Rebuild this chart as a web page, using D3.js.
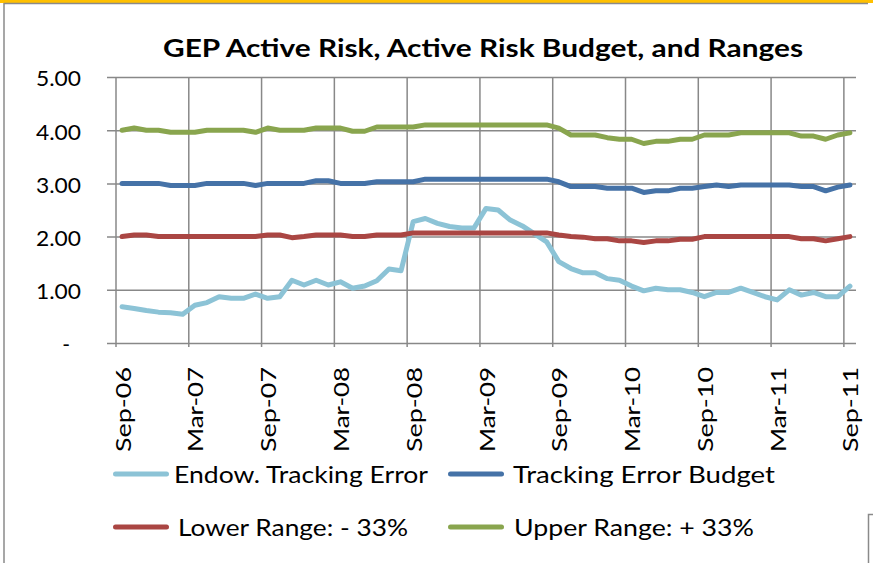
<!DOCTYPE html>
<html>
<head>
<meta charset="utf-8">
<title>GEP Active Risk</title>
<script src="https://cdn.jsdelivr.net/npm/d3@7"></script>
<style>
  body { margin: 0; background: #fff; }
  svg { display: block; font-family: Lato, "Open Sans", sans-serif; }
</style>
</head>
<body>
<svg id="chart" width="873" height="563"></svg>
<script>
// monthly points, Sep-06 .. Sep-11
var months = d3.timeMonth.range(new Date(2006, 8, 1), new Date(2011, 9, 1));
var tickLabels = ["Sep-06", "Mar-07", "Sep-07", "Mar-08", "Sep-08", "Mar-09",
                  "Sep-09", "Mar-10", "Sep-10", "Mar-11", "Sep-11"];
var yTicks = [0, 1, 2, 3, 4, 5];

var endowTE = [0.68, 0.65, 0.61, 0.58, 0.57, 0.54, 0.71, 0.76, 0.87, 0.84, 0.84, 0.92,
               0.84, 0.87, 1.18, 1.09, 1.18, 1.09, 1.15, 1.03, 1.07, 1.17, 1.39, 1.36,
               2.28, 2.34, 2.25, 2.19, 2.16, 2.16, 2.53, 2.50, 2.31, 2.20, 2.05, 1.90,
               1.53, 1.40, 1.32, 1.32, 1.21, 1.18, 1.07, 0.98, 1.03, 1.00, 1.00, 0.95,
               0.87, 0.95, 0.95, 1.03, 0.95, 0.87, 0.81, 1.00, 0.90, 0.95, 0.87, 0.87, 1.07];
var teBudget = [3.00, 3.00, 3.00, 3.00, 2.96, 2.96, 2.96, 3.00, 3.00, 3.00, 3.00, 2.96,
                3.00, 3.00, 3.00, 3.00, 3.05, 3.05, 3.00, 3.00, 3.00, 3.03, 3.03, 3.03,
                3.03, 3.08, 3.08, 3.08, 3.08, 3.08, 3.08, 3.08, 3.08, 3.08, 3.08, 3.08,
                3.03, 2.94, 2.94, 2.94, 2.91, 2.91, 2.91, 2.83, 2.86, 2.86, 2.91, 2.91,
                2.94, 2.97, 2.94, 2.97, 2.97, 2.97, 2.97, 2.97, 2.94, 2.94, 2.86, 2.93, 2.97];
var lowerRange = [2.00, 2.03, 2.03, 2.00, 2.00, 2.00, 2.00, 2.00, 2.00, 2.00, 2.00, 2.00,
                  2.03, 2.03, 1.98, 2.00, 2.03, 2.03, 2.03, 2.00, 2.00, 2.03, 2.03, 2.03,
                  2.07, 2.07, 2.07, 2.07, 2.07, 2.07, 2.07, 2.07, 2.07, 2.07, 2.07, 2.07,
                  2.03, 2.00, 1.99, 1.96, 1.96, 1.92, 1.92, 1.89, 1.92, 1.92, 1.95, 1.95,
                  2.00, 2.00, 2.00, 2.00, 2.00, 2.00, 2.00, 2.00, 1.96, 1.96, 1.92, 1.96, 2.00];
var upperRange = [4.00, 4.04, 4.00, 4.00, 3.96, 3.96, 3.96, 4.00, 4.00, 4.00, 4.00, 3.96,
                  4.04, 4.00, 4.00, 4.00, 4.04, 4.04, 4.04, 3.98, 3.98, 4.06, 4.06, 4.06,
                  4.06, 4.10, 4.10, 4.10, 4.10, 4.10, 4.10, 4.10, 4.10, 4.10, 4.10, 4.10,
                  4.04, 3.91, 3.91, 3.91, 3.86, 3.83, 3.83, 3.75, 3.79, 3.79, 3.83, 3.83,
                  3.91, 3.91, 3.91, 3.95, 3.95, 3.95, 3.95, 3.95, 3.89, 3.89, 3.83, 3.91, 3.95];

var seriesNames = ["Endow. Tracking Error", "Tracking Error Budget", "Lower Range: - 33%", "Upper Range: + 33%"];
var seriesColors = ["#8cc3d6", "#4572a7", "#aa4643", "#89a54e"];
var seriesData = [endowTE, teBudget, lowerRange, upperRange];

var svg = d3.select("#chart");
var gridColor = "#888";
var plotL = 116, plotR = 856, plotT = 77, plotB = 343;

// frame bits
svg.append("rect").attr("x", 0).attr("y", 0).attr("width", 873).attr("height", 3).attr("fill", "#ffc000");
svg.append("line").attr("x1", 4).attr("x2", 868).attr("y1", 3.5).attr("y2", 3.5)
    .attr("stroke", "#8a8a8a").attr("stroke-width", 1.5);
svg.append("line").attr("x1", 4).attr("x2", 4).attr("y1", 3).attr("y2", 563)
    .attr("stroke", "#8a8a8a").attr("stroke-width", 1.5);
svg.append("path").attr("d", "M873,514.5H868.5V563").attr("fill", "none")
    .attr("stroke", "#8a8a8a").attr("stroke-width", 1.5);

var x = d3.scaleBand().domain(months).range([plotL, plotR]);
var bw = x.bandwidth();
var y = d3.scaleLinear().domain([0, 5]).range([plotB, plotT]);
var fmtMonth = d3.timeFormat("%b-%y");

// horizontal gridlines + y labels
var yAxis = d3.axisLeft(y)
    .tickValues(yTicks)
    .tickSize(-(plotR - plotL))
    .tickPadding(35)
    .tickFormat(function(d) { return d === 0 ? "-" : d3.format(".2f")(d); });

var gy = svg.append("g").attr("transform", "translate(" + plotL + ",0)").call(yAxis);
gy.select(".domain").remove();
gy.selectAll(".tick line").attr("x1", -9).attr("stroke", gridColor).attr("stroke-width", 1.5);
gy.selectAll(".tick text")
    .attr("font-family", "Lato, sans-serif")
    .attr("font-size", 21)
    .attr("fill", "#000")
    .attr("dy", "0.42em")
    .attr("textLength", function(d) { return d === 0 ? null : 45; })
    .attr("lengthAdjust", "spacingAndGlyphs")
    .attr("x", function(d) { return d === 0 ? -46 : -35; });

// vertical gridlines every 6 months
var tickMonths = months.filter(function(m) { return tickLabels.indexOf(fmtMonth(m)) >= 0; });
svg.append("g").selectAll("line")
  .data(tickMonths)
  .enter().append("line")
    .attr("x1", function(d) { return x(d); })
    .attr("x2", function(d) { return x(d); })
    .attr("y1", plotT)
    .attr("y2", plotB + 4)
    .attr("stroke", gridColor)
    .attr("stroke-width", 1.5);

// x labels, rotated
svg.append("g").selectAll("text")
  .data(tickMonths)
  .enter().append("text")
    .attr("transform", function(d) {
      return "translate(" + (x(d) + bw / 2 + 8.5) + "," + 367 + ") rotate(-90)";
    })
    .attr("text-anchor", "end")
    .attr("font-size", 22)
    .attr("fill", "#000")
    .attr("textLength", 85)
    .attr("lengthAdjust", "spacingAndGlyphs")
    .text(function(d) { return fmtMonth(d); });

// lines
var line = d3.line()
    .x(function(d, i) { return x(months[i]) + bw / 2; })
    .y(function(d) { return y(d); });

svg.append("g").selectAll("path")
  .data(seriesData)
  .enter().append("path")
    .attr("d", line)
    .attr("fill", "none")
    .attr("stroke", function(d, i) { return seriesColors[i]; })
    .attr("stroke-width", 5)
    .attr("stroke-linejoin", "round")
    .attr("stroke-linecap", "round");

// title
svg.append("text")
    .attr("x", 163).attr("y", 57)
    .attr("font-size", 24)
    .attr("font-weight", "bold")
    .attr("fill", "#000")
    .attr("textLength", 640)
    .attr("lengthAdjust", "spacingAndGlyphs")
    .text("GEP Active Risk, Active Risk Budget, and Ranges");

// legend
var legendPos = [
  { lx: 113, tx: 174, y: 474, w: 254 },
  { lx: 448, tx: 513, y: 474, w: 262 },
  { lx: 113, tx: 178, y: 527, w: 230 },
  { lx: 448, tx: 514, y: 527, w: 240 }
];
var lg = svg.append("g").selectAll("g")
  .data(seriesNames)
  .enter().append("g");
lg.append("line")
    .attr("x1", function(d, i) { return legendPos[i].lx + 2.5; })
    .attr("x2", function(d, i) { return legendPos[i].lx + 53.5; })
    .attr("y1", function(d, i) { return legendPos[i].y; })
    .attr("y2", function(d, i) { return legendPos[i].y; })
    .attr("stroke", function(d, i) { return seriesColors[i]; })
    .attr("stroke-width", 5)
    .attr("stroke-linecap", "round");
lg.append("text")
    .attr("x", function(d, i) { return legendPos[i].tx; })
    .attr("y", function(d, i) { return legendPos[i].y + 9; })
    .attr("font-size", 23.5)
    .attr("fill", "#000")
    .attr("textLength", function(d, i) { return legendPos[i].w; })
    .attr("lengthAdjust", "spacingAndGlyphs")
    .text(function(d) { return d; });
</script>
</body>
</html>
